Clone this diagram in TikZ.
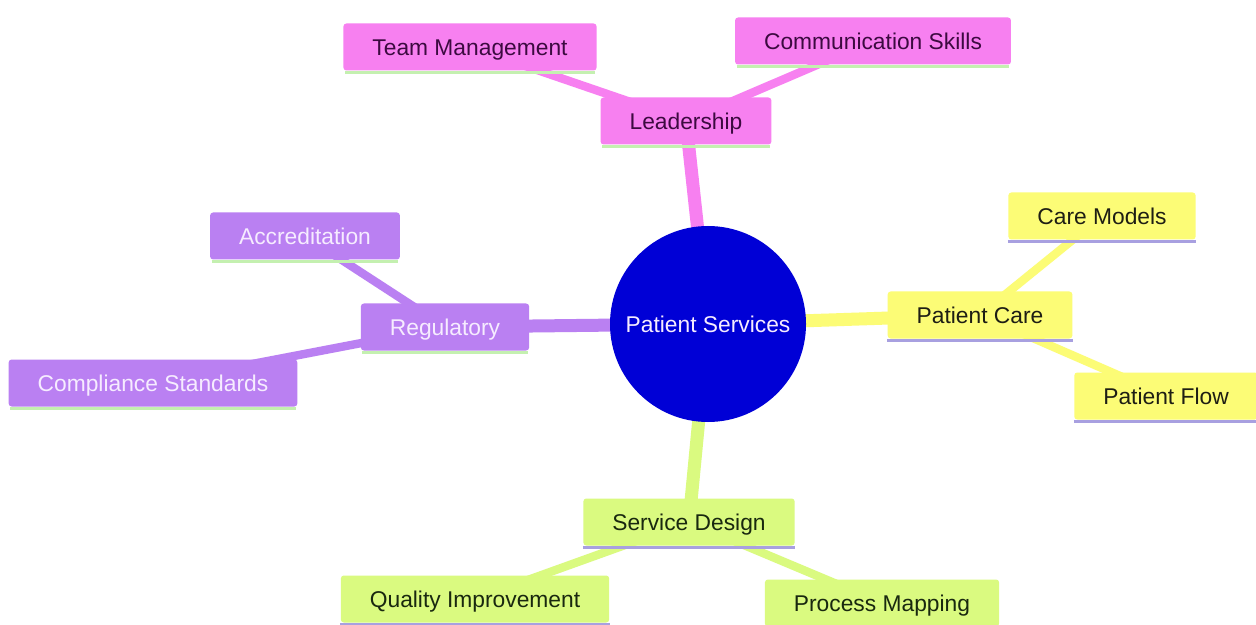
\documentclass[tikz,border=0pt]{standalone}
\usepackage{fontspec}
\setmainfont{Liberation Sans}
\usetikzlibrary{backgrounds}
\definecolor{pinkf}{RGB}{247,128,240}
\definecolor{purpf}{RGB}{186,128,242}
\definecolor{yelf}{RGB}{252,252,118}
\definecolor{grnf}{RGB}{218,250,128}
\definecolor{bluef}{RGB}{0,0,214}
\definecolor{pinkt}{RGB}{60,10,64}
\definecolor{purpt}{RGB}{246,236,255}
\definecolor{yelt}{RGB}{30,30,20}
\definecolor{grnt}{RGB}{25,40,15}
\definecolor{ulgreen}{RGB}{196,240,176}
\definecolor{ullav}{RGB}{168,160,224}
\tikzset{
  box/.style={rectangle, rounded corners=1.5pt, inner xsep=14.5pt, inner ysep=0pt,
    minimum height=23.5pt, text height=8.4pt, text depth=0pt,
    font=\fontsize{11.4}{13}\selectfont},
  pinkbox/.style={box, fill=pinkf, text=pinkt},
  purpbox/.style={box, fill=purpf, text=purpt},
  yelbox/.style={box, fill=yelf, text=yelt},
  grnbox/.style={box, fill=grnf, text=grnt},
  rootnode/.style={circle, fill=bluef, text=purpt, minimum size=98pt, inner sep=0pt,
    font=\fontsize{11.4}{13}\selectfont},
  mainedge/.style={line width=6.5pt},
  subedge/.style={line width=4.2pt},
}
\begin{document}
\begin{tikzpicture}[x=0.5pt,y=-0.5pt]
\useasboundingbox (0,0) rectangle (1256,625);
% nodes
\node[rootnode] (root) at (708,324) {Patient Services};
\node[pinkbox] (lead) at (686,121) {Leadership};
\node[pinkbox] (team) at (470,47) {Team Management};
\node[pinkbox] (comm) at (873,41) {Communication Skills};
\node[yelbox] (care) at (980,315) {Patient Care};
\node[yelbox] (models) at (1102,216) {Care Models};
\node[yelbox] (flow) at (1166,396) {Patient Flow};
\node[purpbox] (reg) at (445,327) {Regulatory};
\node[purpbox] (accr) at (305,236) {Accreditation};
\node[purpbox] (comp) at (153,383) {Compliance Standards};
\node[grnbox] (serv) at (689,522) {Service Design};
\node[grnbox] (qual) at (475,599) {Quality Improvement};
\node[grnbox] (proc) at (882,603) {Process Mapping};
% underlines
\foreach \n in {lead,team,comm,reg,accr,comp}
  \draw[ulgreen, line width=1.5pt] ([xshift=1pt,yshift=-0.6pt]\n.south west) -- ([xshift=-1pt,yshift=-0.6pt]\n.south east);
\foreach \n in {care,models,flow,serv,qual,proc}
  \draw[ullav, line width=1.5pt] ([yshift=-0.6pt]\n.south west) -- ([yshift=-0.6pt]\n.south east);
% edges
\begin{scope}[on background layer]
\fill[white] (0,0) rectangle (1256,625);
\draw[pinkf, mainedge] (root.center) -- (lead.center);
\draw[pinkf, subedge] (lead.center) -- (team.center);
\draw[pinkf, subedge] (lead.center) -- (comm.center);
\draw[yelf, mainedge] (root.center) -- (care.center);
\draw[yelf, subedge] (care.center) -- (models.center);
\draw[yelf, subedge] (care.center) -- (flow.center);
\draw[purpf, mainedge] (root.center) -- (reg.center);
\draw[purpf, subedge] (reg.center) -- (accr.center);
\draw[purpf, subedge] (reg.center) -- (comp.center);
\draw[grnf, mainedge] (root.center) -- (serv.center);
\draw[grnf, subedge] (serv.center) -- (qual.center);
\draw[grnf, subedge] (serv.center) -- (proc.center);
\end{scope}
\end{tikzpicture}
\end{document}
